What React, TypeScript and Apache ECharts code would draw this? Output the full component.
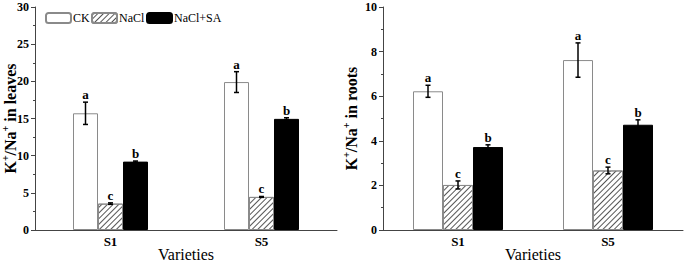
import React, { useEffect, useRef } from "react";
import * as echarts from "echarts";

const categories = ["S1", "S5"];
const seriesNames = ["CK", "NaCl", "NaCl+SA"];

// Leaves K+/Na+
const leavesCK = [15.7, 19.9];
const leavesNaCl = [3.55, 4.45];
const leavesSA = [9.2, 14.95];
const leavesCKErr = [1.5, 1.4];
const leavesNaClErr = [0.1, 0.06];
const leavesSAErr = [0.08, 0.15];

// Roots K+/Na+
const rootsCK = [6.22, 7.62];
const rootsNaCl = [2.02, 2.67];
const rootsSA = [3.72, 4.72];
const rootsCKErr = [0.27, 0.77];
const rootsNaClErr = [0.18, 0.15];
const rootsSAErr = [0.1, 0.22];

// Significance letters (per series, per category)
const lettersCK = ["a", "a"];
const lettersNaCl = ["c", "c"];
const lettersSA = ["b", "b"];

const FONT = '"Liberation Serif", "Times New Roman", serif';

const barStyles = [
  { color: "#ffffff", borderColor: "#8a8a8a", borderWidth: 1 },
  {
    color: "#ffffff",
    borderColor: "#8a8a8a",
    borderWidth: 1,
    decal: {
      symbol: "rect",
      symbolSize: 1,
      dashArrayX: [1, 0],
      dashArrayY: [0.9, 2.5],
      rotation: -Math.PI / 4,
      color: "#555555",
      backgroundColor: "#ffffff",
    },
  },
  { color: "#000000", borderColor: "#000000", borderWidth: 1 },
];

const legendLefts = [45, 91, 146];

function buildErrData(values: number[][], errs: number[][]) {
  const out: number[][] = [];
  values.forEach((vals, s) => {
    vals.forEach((v, c) => {
      out.push([c, v, errs[s][c], s]);
    });
  });
  return out;
}

function buildLetters(values: number[][], letters: string[][]) {
  const out: string[] = [];
  values.forEach((vals, s) => {
    vals.forEach((_v, c) => {
      out.push(letters[s][c]);
    });
  });
  return out;
}

function makeRender(barW: number, letterList: string[]) {
  return (params: any, api: any) => {
    const c = api.value(0);
    const v = api.value(1);
    const e = api.value(2);
    const s = api.value(3);
    const letter = letterList[params.dataIndex];
    const center = api.coord([c, v]);
    const x = center[0] + (s - 1) * barW;
    const yHi = api.coord([c, v + e])[1];
    const yLo = api.coord([c, v - e])[1];
    const cap = 2.5;
    const lineStyle = { stroke: "#000", lineWidth: 1.5 };
    return {
      type: "group",
      children: [
        { type: "line", shape: { x1: x, y1: yHi, x2: x, y2: yLo }, style: lineStyle },
        { type: "line", shape: { x1: x - cap, y1: yHi, x2: x + cap, y2: yHi }, style: lineStyle },
        { type: "line", shape: { x1: x - cap, y1: yLo, x2: x + cap, y2: yLo }, style: lineStyle },
        {
          type: "text",
          x: x,
          y: yHi - 1,
          style: {
            text: letter,
            fill: "#000",
            font: `bold 13px ${FONT}`,
            textAlign: "center",
            textVerticalAlign: "bottom",
          },
        },
      ],
    };
  };
}

const nameRich = {
  b: { fontSize: 16, fontWeight: "bold" as const, fontFamily: FONT, color: "#000" },
  sup: {
    fontSize: 10,
    fontWeight: "bold" as const,
    fontFamily: FONT,
    color: "#000",
    padding: [0, 0, 10, 0],
  },
};

export default function App() {
  const ref = useRef<HTMLDivElement>(null);
  useEffect(() => {
    if (!ref.current) return;
    const chart = echarts.init(ref.current, undefined, { renderer: "svg" });

    const leavesVals = [leavesCK, leavesNaCl, leavesSA];
    const leavesErrs = [leavesCKErr, leavesNaClErr, leavesSAErr];
    const rootsVals = [rootsCK, rootsNaCl, rootsSA];
    const rootsErrs = [rootsCKErr, rootsNaClErr, rootsSAErr];
    const letters = [lettersCK, lettersNaCl, lettersSA];

    const xAxisBase = (gridIndex: number) => ({
      type: "category" as const,
      gridIndex,
      data: categories,
      axisLine: { lineStyle: { color: "#444", width: 1 } },
      axisTick: { show: false },
      axisLabel: {
        fontFamily: FONT,
        fontWeight: "bold" as const,
        fontSize: 13,
        color: "#000",
        margin: 5,
      },
      name: "Varieties",
      nameLocation: "middle" as const,
      nameGap: 16,
      nameMoveOverlap: false,
      nameTextStyle: { fontFamily: FONT, fontSize: 16, color: "#000", verticalAlign: "top" as const },
    });

    const yAxisBase = (gridIndex: number, max: number, interval: number, title: string, gap: number) => ({
      type: "value" as const,
      gridIndex,
      min: 0,
      max,
      interval,
      splitLine: { show: false },
      axisLine: { show: true, lineStyle: { color: "#444", width: 1 } },
      axisTick: { show: true, length: 4, lineStyle: { color: "#444" } },
      minorTick: { show: true, splitNumber: 2, length: 2, lineStyle: { color: "#444" } },
      axisLabel: {
        fontFamily: FONT,
        fontWeight: "bold" as const,
        fontSize: 12,
        color: "#000",
        margin: 6,
      },
      name: `{b|K}{sup|+}{b|/Na}{sup|+}{b| in ${title}}`,
      nameLocation: "middle" as const,
      nameGap: gap,
      nameMoveOverlap: false,
      nameTextStyle: { rich: nameRich },
    });

    const series: any[] = [];
    seriesNames.forEach((name, s) => {
      series.push({
        type: "bar",
        name,
        xAxisIndex: 0,
        yAxisIndex: 0,
        data: leavesVals[s],
        barWidth: 25,
        barGap: "0%",
        itemStyle: barStyles[s],
      });
    });
    seriesNames.forEach((name, s) => {
      series.push({
        type: "bar",
        name,
        xAxisIndex: 1,
        yAxisIndex: 1,
        data: rootsVals[s],
        barWidth: 30,
        barGap: "0%",
        itemStyle: barStyles[s],
      });
    });
    series.push({
      type: "custom",
      xAxisIndex: 0,
      yAxisIndex: 0,
      z: 5,
      renderItem: makeRender(25, buildLetters(leavesVals, letters)),
      encode: { x: 0, y: 1 },
      data: buildErrData(leavesVals, leavesErrs),
    });
    series.push({
      type: "custom",
      xAxisIndex: 1,
      yAxisIndex: 1,
      z: 5,
      renderItem: makeRender(30, buildLetters(rootsVals, letters)),
      encode: { x: 0, y: 1 },
      data: buildErrData(rootsVals, rootsErrs),
    });

    const legends = seriesNames.map((name, i) => ({
      data: [name],
      left: legendLefts[i],
      top: 12,
      padding: 0,
      itemWidth: 25,
      itemHeight: 10,
      selectedMode: false,
      textStyle: { fontFamily: FONT, fontSize: 12, color: "#000", padding: [0, 0, 0, -3] },
    }));

    chart.setOption({
      animation: false,
      backgroundColor: "#ffffff",
      textStyle: { fontFamily: FONT },
      legend: legends,
      grid: [
        { left: 35, top: 7, width: 302, height: 223, outerBoundsMode: "none", containLabel: false },
        { left: 383, top: 7, width: 300, height: 223, outerBoundsMode: "none", containLabel: false },
      ],
      xAxis: [xAxisBase(0), xAxisBase(1)],
      yAxis: [yAxisBase(0, 30, 5, "leaves", 15), yAxisBase(1, 10, 2, "roots", 22)],
      series,
    });

    return () => chart.dispose();
  }, []);

  return (
    <div
      ref={ref}
      style={{ position: "absolute", left: 0, top: 0, width: 685, height: 265, background: "#fff" }}
    />
  );
}
